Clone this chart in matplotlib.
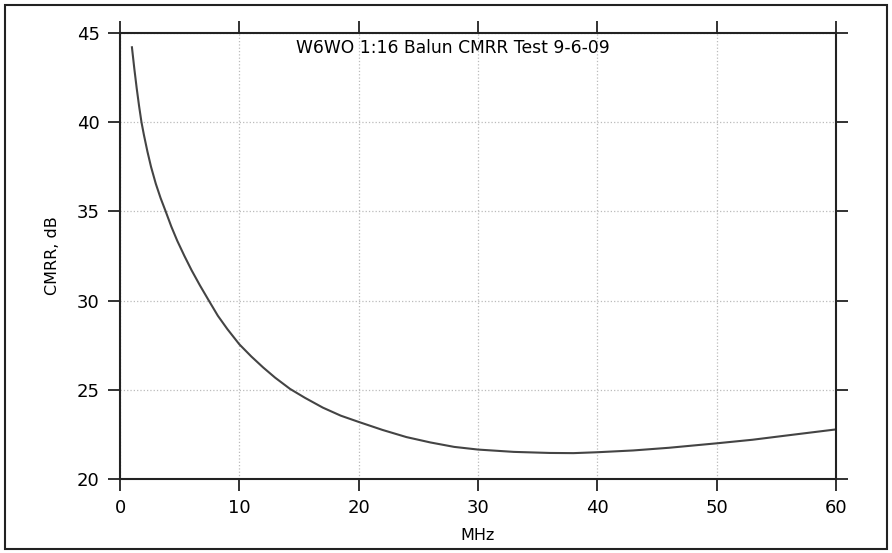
import matplotlib
matplotlib.use('Agg')
import matplotlib.pyplot as plt
from matplotlib.patches import Rectangle

# Valores (MHz, CMRR em dB)
freq_mhz = [1.0, 1.2, 1.4, 1.6, 1.8, 2.0, 2.3, 2.6, 3.0, 3.4, 3.8, 4.3,
            4.8, 5.4, 6.0, 6.7, 7.4, 8.2, 9.0, 10.0, 11.0, 12.0, 13.0,
            14.25, 15.5, 17.0, 18.5, 20.0, 22.0, 24.0, 26.0, 28.0, 30.0,
            33.0, 36.0, 38.0, 40.0, 43.0, 46.0, 50.0, 53.0, 56.0, 60.0]
cmrr_db = [44.2, 43.0, 41.9, 40.9, 40.0, 39.3, 38.35, 37.5, 36.55, 35.75,
           35.05, 34.15, 33.35, 32.5, 31.7, 30.85, 30.05, 29.15, 28.4,
           27.55, 26.87, 26.25, 25.68, 25.05, 24.55, 24.0, 23.55, 23.2,
           22.75, 22.35, 22.05, 21.8, 21.65, 21.52, 21.46, 21.45, 21.5,
           21.6, 21.75, 22.0, 22.2, 22.45, 22.78]

fig = plt.figure(figsize=(8.92, 5.53), dpi=100)
ax = fig.add_axes([120/892, 1 - 479/553, 716/892, 446/553])

ax.plot(freq_mhz, cmrr_db, color='#444444', lw=1.5)

ax.set_xlim(0, 60)
ax.set_ylim(20, 45)
ax.set_xticks(range(0, 61, 10))
ax.set_yticks(range(20, 46, 5))
ax.grid(True, color='#bbbbbb', linestyle=':', lw=0.9)

for s in ax.spines.values():
    s.set_linewidth(1.5)
    s.set_color('#222222')
ax.tick_params(direction='out', length=8.5, width=1.3, color='#222222',
               top=True, right=True, labelsize=13, pad=6)

ax.set_xlabel('MHz', fontsize=11.5, labelpad=8)
ax.set_ylabel('CMRR, dB', fontsize=11.5, labelpad=12)

ax.text(0.465, 0.966, 'W6WO 1:16 Balun CMRR Test 9-6-09', transform=ax.transAxes,
        ha='center', va='center', fontsize=12.3)

# moldura externa
fig.patches.append(Rectangle((5/892, 4/553), 882/892, 544/553, transform=fig.transFigure,
                             fill=False, lw=1.5, edgecolor='#222222'))

fig.savefig('out.png', dpi=100)
